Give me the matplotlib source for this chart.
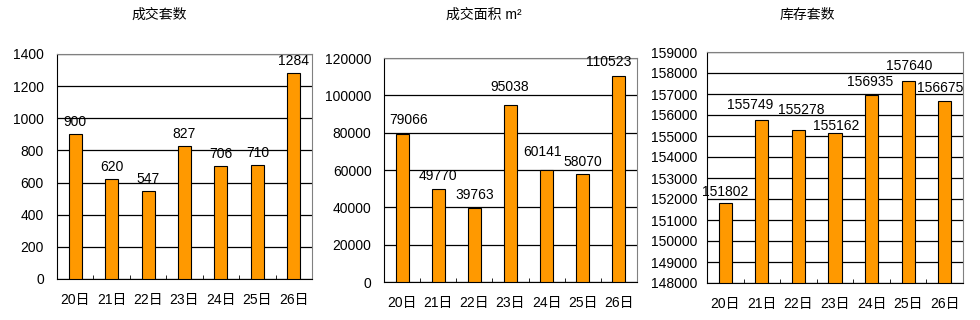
import matplotlib as mpl
mpl.use('Agg')
import matplotlib.pyplot as plt
import numpy as np

plt.rcParams['font.family'] = ['Liberation Sans', 'Noto Sans CJK SC']

days = ['20日', '21日', '22日', '23日', '24日', '25日', '26日']
deals = [900, 620, 547, 827, 706, 710, 1284]
area = [79066, 49770, 39763, 95038, 60141, 58070, 110523]
stock = [151802, 155749, 155278, 155162, 156935, 157640, 156675]

titles = ['成交套数', '成交面积 m²', '库存套数']
title_x = [159, 484, 807]
limits = [(0, 1400, 200), (0, 120000, 20000), (148000, 159000, 1000)]
# axes rectangles in pixels: left, right, top, bottom
boxes = [(57, 312, 54, 279), (384, 637, 58, 282), (707, 963, 52, 283)]
ypads = [9.5, 9, 7]
# label shifts (px) like the excel layout
shifts = [
    [(0, 12)] * 7,
    [(6, 14), (0, 13), (0, 13), (-1, 18), (-4, 18), (0, 12), (-10, 14)],
    [(0, 11), (-12, 15), (3, 20), (1, 7), (-1, 13), (1, 15), (-5, 13)],
]

W, H = 980, 320
fig = plt.figure(figsize=(W / 100, H / 100), dpi=100)
px = 72 / 100

for i, vals in enumerate([deals, area, stock]):
    lo, hi, step = limits[i]
    l, r, t, b = boxes[i]
    ax = fig.add_axes([l / W, 1 - b / H, (r - l) / W, (b - t) / H])
    x = np.arange(len(days))
    ax.bar(x, np.array(vals) - lo, bottom=lo, width=0.36, color='#FF9900',
           edgecolor='black', linewidth=0.8, zorder=3)
    for xi, v, (dx, dy) in zip(x, vals, shifts[i]):
        ax.annotate(str(v), (xi, v), xytext=(dx * px, dy * px), textcoords='offset points',
                    ha='center', va='center', fontsize=10, zorder=4)
    ax.set_xlim(-0.5, len(days) - 0.5)
    ax.set_ylim(lo, hi)
    ax.set_yticks(np.arange(lo, hi + 1, step))
    ax.yaxis.grid(True, color='black', linewidth=0.9)
    ax.set_axisbelow(True)
    ax.set_xticks(x)
    ax.set_xticklabels(days, fontsize=10)
    ax.tick_params(axis='x', length=0, pad=10)
    ax.tick_params(axis='y', length=0, pad=ypads[i], labelsize=10)
    ax.set_xticks(np.arange(0.5, len(days) - 1, 1), minor=True)
    ax.tick_params(axis='x', which='minor', direction='in', length=3, color='black')
    for s in ['top', 'right']:
        ax.spines[s].set_color('#808080')
    for s in ['left', 'bottom']:
        ax.spines[s].set_color('black')
    fig.text(title_x[i] / W, 1 - 15 / H, titles[i], ha='center', va='center', fontsize=10)

fig.savefig('out.png', dpi=100)
